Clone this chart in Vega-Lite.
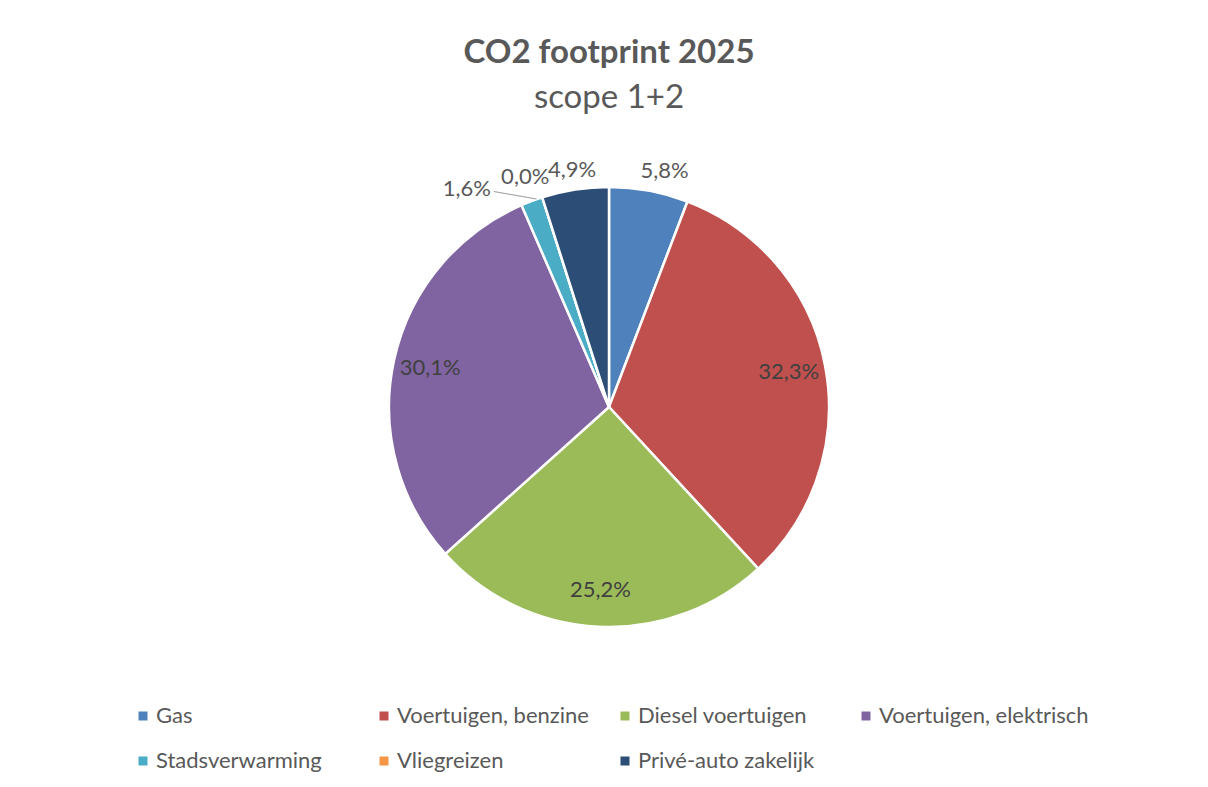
{
  "$schema": "https://vega.github.io/schema/vega-lite/v6.json",
  "autosize": {"type": "none"},
  "padding": {"left": 6, "top": 6, "right": 0, "bottom": 0},
  "width": 1206,
  "height": 802,
  "background": "white",
  "title": {
    "text": "CO2 footprint 2025",
    "subtitle": "scope 1+2",
    "anchor": "middle",
    "frame": "group",
    "offset": -109,
    "font": "Lato",
    "fontSize": 33,
    "fontWeight": "bold",
    "color": "#595959",
    "subtitleFont": "Lato",
    "subtitleFontSize": 33,
    "subtitleColor": "#595959",
    "subtitlePadding": 12
  },
  "data": {
    "values": [
      {"category": "Gas", "value": 0.058},
      {"category": "Voertuigen, benzine", "value": 0.323},
      {"category": "Diesel voertuigen", "value": 0.252},
      {"category": "Voertuigen, elektrisch", "value": 0.301},
      {"category": "Stadsverwarming", "value": 0.016},
      {"category": "Vliegreizen", "value": 0.0},
      {"category": "Privé-auto zakelijk", "value": 0.049}
    ]
  },
  "transform": [
    {"calculate": "indexof(['Gas', 'Voertuigen, benzine', 'Diesel voertuigen', 'Voertuigen, elektrisch', 'Stadsverwarming', 'Vliegreizen', 'Privé-auto zakelijk'], datum.category)", "as": "idx"}
  ],
  "encoding": {
    "theta": {"field": "value", "type": "quantitative", "stack": true},
    "order": {"field": "idx", "type": "quantitative", "sort": "ascending"},
    "color": {
      "field": "category",
      "type": "nominal",
      "sort": ["Gas", "Voertuigen, benzine", "Diesel voertuigen", "Voertuigen, elektrisch", "Stadsverwarming", "Vliegreizen", "Privé-auto zakelijk"],
      "scale": {
        "domain": ["Gas", "Voertuigen, benzine", "Diesel voertuigen", "Voertuigen, elektrisch", "Stadsverwarming", "Vliegreizen", "Privé-auto zakelijk"],
        "range": ["#4F81BD", "#C0504D", "#9BBB59", "#8064A2", "#4BACC6", "#F79646", "#2C4D75"]
      },
      "legend": {
        "orient": "none",
        "legendX": 126,
        "legendY": 699,
        "direction": "horizontal",
        "columns": 4,
        "gridAlign": "all",
        "title": null,
        "symbolType": "square",
        "symbolSize": 81,
        "symbolStrokeWidth": 0,
        "labelFont": "Lato",
        "labelFontSize": 22,
        "labelColor": "#595959",
        "labelOffset": 2,
        "labelLimit": 400,
        "columnPadding": 7,
        "rowPadding": 23
      }
    }
  },
  "layer": [
    {
      "mark": {"type": "arc", "outerRadius": 220, "stroke": "white", "strokeWidth": 2.5}
    },
    {
      "mark": {"type": "text", "radius": 183, "font": "Lato", "fontSize": 22},
      "encoding": {
        "text": {"condition": {"test": "datum.value >= 0.1", "field": "value", "type": "quantitative", "format": ".1%"}, "value": ""},
        "color": {"value": "#404040"}
      }
    },
    {
      "mark": {"type": "text", "radius": 240, "font": "Lato", "fontSize": 22},
      "encoding": {
        "text": {"condition": {"test": "datum.category == 'Privé-auto zakelijk'", "field": "value", "type": "quantitative", "format": ".1%"}, "value": ""},
        "color": {"value": "#595959"}
      }
    },
    {
      "mark": {"type": "text", "radius": 240, "font": "Lato", "fontSize": 22, "dx": 12},
      "encoding": {
        "text": {"condition": {"test": "datum.category == 'Gas'", "field": "value", "type": "quantitative", "format": ".1%"}, "value": ""},
        "color": {"value": "#595959"}
      }
    },
    {
      "mark": {"type": "text", "radius": 240, "font": "Lato", "fontSize": 22, "dx": -11, "dy": -1},
      "encoding": {
        "text": {"condition": {"test": "datum.category == 'Vliegreizen'", "field": "value", "type": "quantitative", "format": ".1%"}, "value": ""},
        "color": {"value": "#595959"}
      }
    },
    {
      "mark": {"type": "text", "radius": 240, "font": "Lato", "fontSize": 22, "align": "right", "dx": -34, "dy": 7},
      "encoding": {
        "text": {"condition": {"test": "datum.category == 'Stadsverwarming'", "field": "value", "type": "quantitative", "format": ".1%"}, "value": ""},
        "color": {"value": "#595959"}
      }
    },
    {
      "mark": {"type": "text", "radius": 229, "font": "DejaVu Sans", "fontSize": 12, "angle": 10, "dx": -13, "dy": 5},
      "encoding": {
        "text": {"condition": {"test": "datum.category == 'Stadsverwarming'", "value": "──────"}, "value": ""},
        "color": {"value": "#a6a6a6"}
      }
    }
  ],
  "config": {
    "locale": {
      "number": {"decimal": ",", "thousands": ".", "grouping": [3], "currency": ["€", ""]}
    },
    "view": {"stroke": "#d9d9d9", "strokeWidth": 2}
  }
}
